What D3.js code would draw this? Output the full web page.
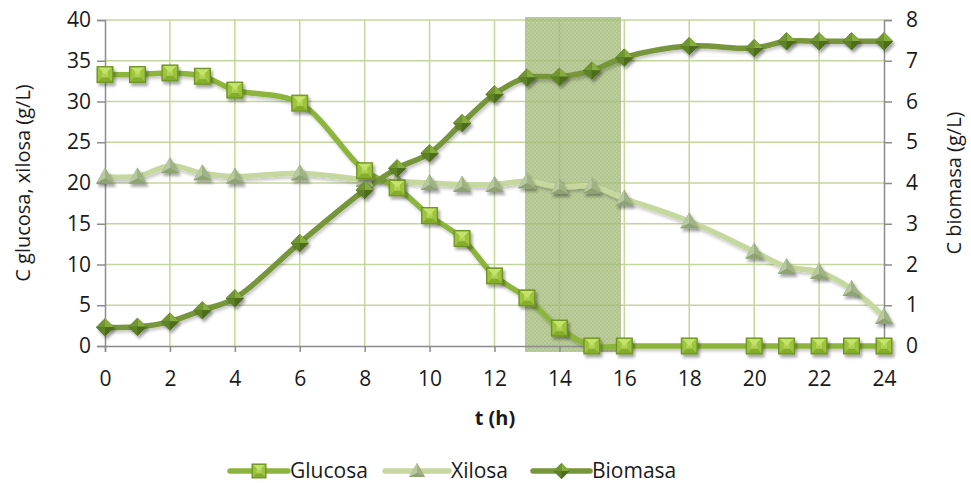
<!DOCTYPE html>
<html><head><meta charset="utf-8">
<script src="https://cdn.jsdelivr.net/npm/d3@7"></script>
<style>
body{margin:0;background:#fff;}
svg{display:block;font-family:"Open Sans",sans-serif;}
</style></head><body>
<svg id="c" width="971" height="483"></svg>
<script>
const time = [0,1,2,3,4,6,8,9,10,11,12,13,14,15,16,18,20,21,22,23,24];
const glucosa = [33.3,33.3,33.5,33.1,31.4,29.8,21.5,19.4,16.0,13.2,8.6,5.9,2.2,0,0,0,0,0,0,0,0];
const xilosa = [20.8,20.8,22.1,21.2,20.8,21.2,20.4,20.2,20.0,19.8,19.8,20.2,19.5,19.6,18.1,15.3,11.6,9.7,9.1,7.0,3.6];
const biomasa = [0.46,0.47,0.6,0.88,1.17,2.53,3.83,4.36,4.73,5.47,6.18,6.59,6.61,6.76,7.08,7.36,7.31,7.48,7.48,7.48,7.48];
const xTicks = [0,2,4,6,8,10,12,14,16,18,20,22,24];
const leftTicks = [0,5,10,15,20,25,30,35,40];
const rightTicks = [0,1,2,3,4,5,6,7,8];
const shadeRange = [13,15.9];
const seriesNames = ["Glucosa","Xilosa","Biomasa"];

const svg = d3.select("#c");
const L=105,R=884,T=20,B=346;
const x = d3.scaleLinear().domain([0,24]).range([L,R]);
const yL = d3.scaleLinear().domain([0,40]).range([B,T]);
const yR = d3.scaleLinear().domain([0,8]).range([B,T]);

const defs = svg.append("defs");
const pat = defs.append("pattern").attr("id","chk").attr("width",4).attr("height",4).attr("patternUnits","userSpaceOnUse");
pat.append("rect").attr("width",4).attr("height",4).attr("fill","#aac282");
pat.append("rect").attr("width",2).attr("height",2).attr("fill","#9db774");
pat.append("rect").attr("x",2).attr("y",2).attr("width",2).attr("height",2).attr("fill","#9db774");
const f = defs.append("filter").attr("id","sh").attr("x","-50%").attr("y","-50%").attr("width","200%").attr("height","200%");
f.append("feDropShadow").attr("dx",2).attr("dy",3).attr("stdDeviation",1.8).attr("flood-color","#000").attr("flood-opacity",0.35);
const f2 = defs.append("filter").attr("id","lsh").attr("x","-10%").attr("y","-10%").attr("width","120%").attr("height","120%");
f2.append("feDropShadow").attr("dx",1.5).attr("dy",2.5).attr("stdDeviation",1.5).attr("flood-color","#000").attr("flood-opacity",0.22);

// grid
const grid = svg.append("g").attr("stroke","#c3d69b").attr("stroke-width",1.5);
xTicks.filter(t=>t>0&&t<24).forEach(t=>grid.append("line").attr("x1",x(t)).attr("x2",x(t)).attr("y1",T).attr("y2",B));
leftTicks.filter(t=>t>0).forEach(t=>grid.append("line").attr("x1",L).attr("x2",R).attr("y1",yL(t)).attr("y2",yL(t)));

// shaded band
svg.append("rect").attr("x",x(shadeRange[0])-2).attr("y",T-3).attr("width",x(shadeRange[1])-x(shadeRange[0])+2)
  .attr("height",B-T+9).attr("fill","url(#chk)").attr("opacity",0.8);

// axes
const axL = svg.append("g").attr("transform",`translate(${L},0)`).call(d3.axisLeft(yL).tickValues(leftTicks).tickSize(8).tickPadding(6));
const axR = svg.append("g").attr("transform",`translate(${R},0)`).call(d3.axisRight(yR).tickValues(rightTicks).tickSize(8).tickPadding(14));
const axB = svg.append("g").attr("transform",`translate(0,${B})`).call(d3.axisBottom(x).tickValues(xTicks).tickSize(6).tickPadding(22));
[axL,axR,axB].forEach(a=>{
  a.select(".domain").attr("stroke","#8c8c8c").attr("stroke-width",1.5);
  a.selectAll(".tick line").attr("stroke","#8c8c8c").attr("stroke-width",1.5);
  a.selectAll(".tick text").attr("fill","#1a1a1a").style("font-size","21px").style("font-family","'Open Sans',sans-serif");
});
axB.selectAll(".tick text").attr("dy","0.55em");

svg.append("text").attr("x",495).attr("y",425).attr("text-anchor","middle").style("font-size","20px").style("font-weight","bold").attr("fill","#1a1a1a").text("t (h)");
svg.append("text").attr("transform",`translate(30,${(T+B)/2}) rotate(-90)`).attr("text-anchor","middle").style("font-size","20px").attr("fill","#1a1a1a").text("C glucosa, xilosa (g/L)");
svg.append("text").attr("transform",`translate(961,${(T+B)/2}) rotate(-90)`).attr("text-anchor","middle").style("font-size","20px").attr("fill","#1a1a1a").text("C biomasa (g/L)");

const curve = d3.curveCatmullRom.alpha(0.5);
function series(vals, ys){ return time.map((t,i)=>[x(t), ys(vals[i])]); }

function square(g,cx,cy,s,cols){
  const h=s/2, i=s*0.18;
  g.append("rect").attr("x",cx-h).attr("y",cy-h).attr("width",s).attr("height",s).attr("fill",cols[3]).attr("stroke",cols[4]).attr("stroke-width",1);
  const p=(pts,c)=>g.append("path").attr("d","M"+pts.map(q=>q.join(",")).join("L")+"Z").attr("fill",c);
  p([[cx-h+1,cy-h+1],[cx+h-1,cy-h+1],[cx,cy]],cols[0]);
  p([[cx+h-1,cy-h+1],[cx+h-1,cy+h-1],[cx,cy]],cols[1]);
  p([[cx+h-1,cy+h-1],[cx-h+1,cy+h-1],[cx,cy]],cols[2]);
  p([[cx-h+1,cy+h-1],[cx-h+1,cy-h+1],[cx,cy]],cols[1]);
  g.append("rect").attr("x",cx-i).attr("y",cy-i).attr("width",2*i).attr("height",2*i).attr("fill",cols[0]).attr("opacity",0.6);
}
function diamond(g,cx,cy,s,cols){
  const h=s/2;
  const p=(pts,c)=>g.append("path").attr("d","M"+pts.map(q=>q.join(",")).join("L")+"Z").attr("fill",c);
  p([[cx,cy-h],[cx+h,cy],[cx,cy+h],[cx-h,cy]],cols[3]);
  p([[cx,cy-h],[cx+h,cy],[cx,cy]],cols[0]);
  p([[cx,cy-h],[cx-h,cy],[cx,cy]],cols[1]);
  p([[cx-h,cy],[cx,cy+h],[cx,cy]],cols[2]);
  p([[cx+h,cy],[cx,cy+h],[cx,cy]],cols[3]);
}
function triangle(g,cx,cy,s,cols){
  const h=s/2;
  const top=[cx,cy-h-1], bl=[cx-h-1,cy+h-1], br=[cx+h+1,cy+h-1], c=[cx,cy+2];
  const p=(pts,cc)=>g.append("path").attr("d","M"+pts.map(q=>q.join(",")).join("L")+"Z").attr("fill",cc);
  p([top,br,bl],cols[2]);
  p([top,bl,c],cols[0]);
  p([top,br,c],cols[1]);
  p([bl,br,c],cols[2]);
}

const gCols = ["#c4e36a","#9cc43e","#86ad2c","#7fa62a","#6d8f22"];
const xCols = ["#b8c9a0","#a0b385","#8ea273","#8ea273"];
const bCols = ["#86ad3e","#6f9530","#5f8226","#4e6d1c"];

const cfg = [
  {vals:glucosa, ys:yL, color:"#8db53e", w:5.5, mk:square, size:16, cols:gCols},
  {vals:xilosa, ys:yL, color:"#c6d8a0", w:5.5, mk:triangle, size:16, cols:xCols},
  {vals:biomasa, ys:yR, color:"#77963a", w:5.5, mk:diamond, size:18, cols:bCols}
];
const lineG = svg.append("g");
const mkG = svg.append("g");
[1,0,2].forEach(k=>{
  const c=cfg[k];
  const pts=series(c.vals,c.ys);
  lineG.append("path").attr("d",d3.line().curve(curve)(pts)).attr("fill","none").attr("stroke",c.color).attr("stroke-width",c.w).attr("stroke-linejoin","round").attr("filter","url(#lsh)");
});
[1,0,2].forEach(k=>{
  const c=cfg[k];
  const pts=series(c.vals,c.ys);
  pts.forEach(([px,py])=>{ const g=mkG.append("g").attr("filter","url(#sh)"); c.mk(g,px,py,c.size,c.cols); });
});

// legend
const leg = svg.append("g");
const legX = [[230,288],[385,449],[533,590]];
const legY = 471;
cfg.forEach((c,k)=>{
  const [a,b]=legX[k];
  leg.append("line").attr("x1",a).attr("x2",b).attr("y1",legY).attr("y2",legY).attr("stroke",c.color).attr("stroke-width",5.5).attr("stroke-linecap","round");
  const g=leg.append("g"); c.mk(g,(a+b)/2,legY,c.size-2,c.cols);
  leg.append("text").attr("x",b+2).attr("y",legY).attr("dy","0.35em").style("font-size","21px").attr("fill","#1a1a1a").text(seriesNames[k]);
});
</script></body></html>
